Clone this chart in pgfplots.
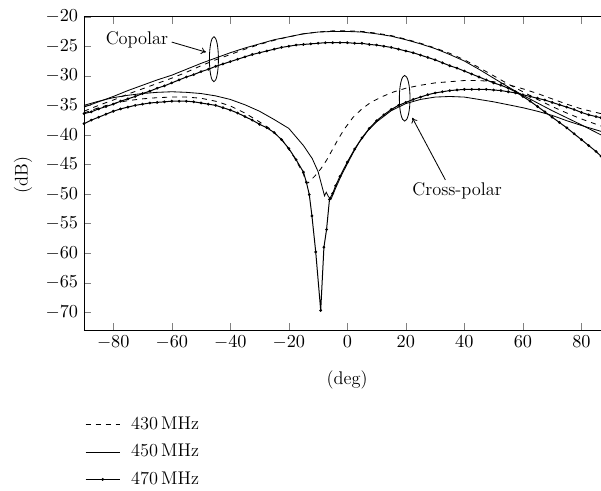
\documentclass[border=0pt]{standalone}
\usepackage{pgfplots}
\pgfplotsset{compat=1.18}
\usetikzlibrary{arrows.meta}
\begin{document}
\begin{tikzpicture}[font=\fontsize{11}{13}\selectfont]
\begin{axis}[
 name=ax, anchor=south west, at={(0,0)},
 width=310.2pt, height=188pt, scale only axis,
 xmin=-90, xmax=86.7, ymin=-73, ymax=-20,
 axis x line=box, axis y line*=left,
 x axis line style={-}, y axis line style={-},
 tick align=inside,
 xtick={-80,-60,-40,-20,0,20,40,60,80},
 ytick={-70,-65,-60,-55,-50,-45,-40,-35,-30,-25,-20},
 xtick pos=both, ytick pos=left,
 tick label style={font=\fontsize{11}{13}\selectfont},
 xlabel={(deg)}, ylabel={(dB)},
 xlabel style={at={(axis description cs:0.509,-0.16)}, anchor=center},
 ylabel style={at={(axis description cs:-0.118,0.495)}, anchor=center},
 legend style={at={(axis description cs:-0.008,-0.255)}, anchor=north west, draw=none, fill=none, row sep=3.5pt, font=\fontsize{11}{13}\selectfont},
 legend cell align=left,
 legend image code/.code={\draw[mark repeat=2,mark phase=2,#1] plot coordinates {(0pt,0pt)(10.2pt,0pt)(20.4pt,0pt)};\path (25pt,0pt);},
]
% copolar 430 MHz
\addplot[black, line width=0.5pt, dashed] coordinates {
(-90,-36.0)(-85,-35.0)(-80,-34.1)(-75,-33.1)(-70,-32.2)(-65,-31.3)(-60,-30.4)(-55,-29.4)(-50,-28.3)(-45,-27.3)(-40,-26.4)(-35,-25.5)(-30,-24.7)(-25,-24.0)(-20,-23.4)(-15,-22.9)(-10,-22.6)(-5,-22.4)(0,-22.4)(5,-22.5)(10,-22.8)(15,-23.2)(20,-23.8)(25,-24.5)(30,-25.3)(35,-26.2)(40,-27.3)(45,-28.6)(50,-30.0)(55,-31.4)(60,-32.7)(65,-34.0)(70,-35.2)(75,-36.3)(80,-37.3)(86.7,-38.5)};
\addlegendentry{430\,MHz}
% copolar 450 MHz
\addplot[black, line width=0.5pt] coordinates {
(-90,-35.3)(-85,-34.4)(-80,-33.5)(-75,-32.5)(-70,-31.6)(-65,-30.7)(-60,-29.9)(-55,-28.9)(-50,-27.9)(-45,-27.0)(-40,-26.1)(-35,-25.3)(-30,-24.6)(-25,-23.9)(-20,-23.4)(-15,-22.9)(-10,-22.6)(-5,-22.5)(0,-22.5)(5,-22.6)(10,-22.9)(15,-23.3)(20,-23.9)(25,-24.6)(30,-25.4)(35,-26.4)(40,-27.5)(45,-28.9)(50,-30.4)(55,-31.9)(60,-33.3)(65,-34.6)(70,-35.9)(75,-37.1)(80,-38.3)(86.7,-40.0)};
\addlegendentry{450\,MHz}
% copolar 470 MHz
\addplot[black, line width=0.6pt, mark=*, mark size=0.5pt] coordinates {
(-90,-36.4)(-87.5,-36.1)(-85,-35.6)(-82.5,-35.2)(-80,-34.8)(-77.5,-34.3)(-75,-33.9)(-72.5,-33.5)(-70,-33.0)(-67.5,-32.6)(-65,-32.1)(-62.5,-31.7)(-60,-31.2)(-57.5,-30.7)(-55,-30.2)(-52.5,-29.8)(-50,-29.3)(-47.5,-28.9)(-45,-28.4)(-42.5,-28.0)(-40,-27.6)(-37.5,-27.2)(-35,-26.8)(-32.5,-26.4)(-30,-26.1)(-27.5,-25.8)(-25,-25.5)(-22.5,-25.2)(-20,-25.0)(-17.5,-24.8)(-15,-24.7)(-12.5,-24.6)(-10,-24.5)(-7.5,-24.4)(-5,-24.4)(-2.5,-24.4)(0,-24.4)(2.5,-24.5)(5,-24.5)(7.5,-24.7)(10,-24.8)(12.5,-25.0)(15,-25.2)(17.5,-25.5)(20,-25.8)(22.5,-26.1)(25,-26.5)(27.5,-26.9)(30,-27.3)(32.5,-27.8)(35,-28.3)(37.5,-28.7)(40,-29.2)(42.5,-29.7)(45,-30.2)(47.5,-30.7)(50,-31.2)(52.5,-31.6)(55,-32.1)(57.5,-32.7)(60,-33.5)(62.5,-34.3)(65,-35.2)(67.5,-36.1)(70,-37.0)(72.5,-37.9)(75,-38.8)(77.5,-39.8)(80,-40.8)(82.5,-41.8)(85,-42.8)(86.7,-43.6)};
\addlegendentry{470\,MHz}
% cross-polar 430 MHz
\addplot[black, line width=0.5pt, dashed, forget plot] coordinates {
(-90,-36.3)(-85,-35.4)(-80,-34.7)(-75,-34.2)(-70,-33.9)(-65,-33.7)(-60,-33.6)(-55,-33.6)(-50,-33.8)(-45,-34.3)(-40,-35.1)(-35,-36.3)(-30,-37.8)(-26,-39.1)(-22,-41.0)(-18,-43.9)(-15,-46.6)(-14,-48.2)(-13.4,-48.1)(-11,-46.9)(-9,-45.7)(-7,-44.2)(-5,-42.4)(-3,-40.6)(-1,-39.0)(2,-37.0)(5,-35.6)(8,-34.5)(12,-33.5)(16,-32.7)(20,-32.1)(25,-31.6)(30,-31.2)(35,-31.0)(40,-30.8)(45,-30.8)(50,-31.0)(55,-31.5)(60,-32.2)(65,-33.0)(70,-33.9)(75,-34.8)(80,-35.6)(86.7,-36.4)};
% cross-polar 450 MHz
\addplot[black, line width=0.5pt, forget plot] coordinates {
(-90,-35.0)(-85,-34.3)(-80,-33.7)(-75,-33.3)(-70,-33.0)(-65,-32.8)(-60,-32.7)(-55,-32.8)(-50,-33.0)(-45,-33.4)(-40,-34.0)(-35,-34.9)(-30,-36.0)(-25,-37.4)(-20,-38.9)(-15,-41.8)(-12,-44.0)(-10,-46.2)(-8.5,-49.0)(-7.8,-50.3)(-7.2,-49.7)(-6.5,-50.4)(-5.6,-50.9)(-4,-49.0)(-2,-46.8)(0,-44.9)(2,-43.0)(4,-41.3)(7,-39.3)(10,-37.8)(15,-35.9)(20,-34.7)(25,-34.0)(30,-33.6)(35,-33.5)(40,-33.6)(45,-34.0)(50,-34.4)(55,-34.9)(60,-35.4)(65,-36.0)(70,-36.7)(75,-37.6)(80,-38.4)(86.7,-39.4)};
% cross-polar 470 MHz
\addplot[black, line width=0.6pt, mark=*, mark size=0.5pt, forget plot] coordinates {
(-90,-38.1)(-87.5,-37.5)(-85,-37.0)(-82.5,-36.5)(-80,-36.0)(-77.5,-35.6)(-75,-35.3)(-72.5,-35.0)(-70,-34.8)(-67.5,-34.6)(-65,-34.5)(-62.5,-34.4)(-60,-34.3)(-57.5,-34.3)(-55,-34.3)(-52.5,-34.4)(-50,-34.6)(-47.5,-34.8)(-45,-35.0)(-42.5,-35.4)(-40,-35.8)(-37.5,-36.3)(-35,-36.9)(-32.5,-37.5)(-30,-38.2)(-27.5,-38.8)(-25,-39.6)(-22.5,-40.8)(-20,-42.3)(-17.5,-44.2)(-15,-46.3)(-14,-48.0)(-13,-50.1)(-12.1,-53.7)(-10.8,-59.8)(-9.1,-69.7)(-8.0,-59.0)(-7.1,-56.0)(-6.1,-50.9)(-5,-49.9)(-4,-48.6)(-2.5,-47.0)(0,-44.6)(2.5,-42.4)(5,-40.5)(7.5,-38.9)(10,-37.6)(12.5,-36.6)(15,-35.7)(17.5,-35.0)(20,-34.5)(22.5,-34.0)(25,-33.6)(27.5,-33.2)(30,-32.9)(32.5,-32.7)(35,-32.5)(37.5,-32.4)(40,-32.3)(42.5,-32.3)(45,-32.3)(47.5,-32.3)(50,-32.4)(52.5,-32.5)(55,-32.7)(57.5,-32.9)(60,-33.2)(62.5,-33.5)(65,-33.8)(67.5,-34.1)(70,-34.5)(72.5,-34.9)(75,-35.3)(77.5,-35.7)(80,-36.2)(82.5,-36.6)(85,-36.9)(86.7,-37.1)};
% annotations
\draw[line width=0.5pt] (axis cs:-45.6,-27.2) ellipse [x radius=2.7pt, y radius=13.5pt];
\node at (axis cs:-71.9,-24.0) {Copolar};
\draw[line width=0.5pt, -{To[length=3pt,width=4pt]}] (axis cs:-60.0,-24.3) -- (axis cs:-48.3,-26.0);
\draw[line width=0.5pt] (axis cs:19.6,-33.8) ellipse [x radius=3.2pt, y radius=13.7pt];
\node at (axis cs:37.5,-49.5) {Cross-polar};
\draw[line width=0.5pt, -{To[length=3pt,width=4pt]}] (axis cs:33.5,-47.6) -- (axis cs:22.2,-37.1);
\end{axis}
\pgfresetboundingbox
\useasboundingbox (-50.4pt,-96pt) rectangle (310.2pt,198pt);
\end{tikzpicture}
\end{document}
